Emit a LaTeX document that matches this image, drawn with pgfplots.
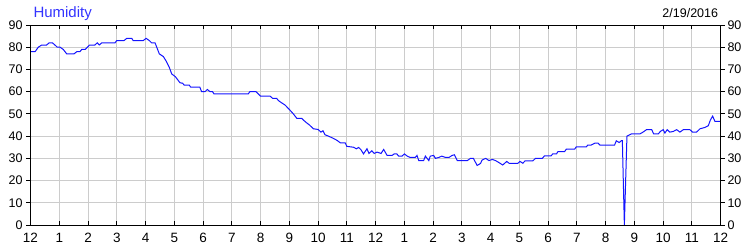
\documentclass[border=0pt]{standalone}
\usepackage{fontspec}
\setmainfont{Liberation Sans}
\usepackage{pgfplots}
\pgfplotsset{compat=1.18}
\definecolor{titleblue}{RGB}{51,51,255}
\definecolor{gridgray}{RGB}{204,204,204}
\definecolor{lineblue}{RGB}{20,20,255}
\begin{document}
\begin{tikzpicture}
\begin{axis}[
  name=main,
  at={(0,0)}, anchor=south west,
  scale only axis, width=690.2pt, height=200pt,
  xmin=0, xmax=24, ymin=0, ymax=90,
  xtick={0,1,...,24},
  xticklabels={12,1,2,3,4,5,6,7,8,9,10,11,12,1,2,3,4,5,6,7,8,9,10,11,12},
  ytick={0,10,...,90},
  grid=major,
  major grid style={gridgray, line width=1pt},
  axis line style={black, line width=1pt},
  tick align=inside,
  major tick length=4pt,
  xtick pos=both, ytick pos=left,
  xtick style={black, line width=1pt},
  ytick style={black, line width=1pt, xshift=-4pt},
  /pgf/number format/assume math mode=true,
  xticklabel style={font=\fontsize{13.5}{14}\selectfont, inner sep=0pt, yshift=-8.3pt},
  yticklabel style={font=\fontsize{12.5}{13}\selectfont, inner sep=0pt, xshift=-7.8pt},
]
\addplot[lineblue, line width=1pt] coordinates {
(0,78) (0.16,78) (0.27,80) (0.39,81) (0.56,81) (0.65,82) (0.76,82) (0.85,81) (0.93,80) (1.03,80) (1.14,79) (1.26,77) (1.51,77) (1.61,78) (1.72,78) (1.78,79) (1.9,79) (1.98,80) (2.05,81) (2.24,81) (2.32,82) (2.39,81) (2.48,82) (2.94,82) (3.0,83) (3.25,83) (3.35,84) (3.52,84) (3.57,83) (3.92,83) (4.02,84) (4.13,83) (4.21,82) (4.33,82) (4.39,80) (4.48,77) (4.62,75.8) (4.73,73.5) (4.83,70.8) (4.91,68) (5.04,66.7) (5.14,65) (5.2,64) (5.29,63.8) (5.34,63) (5.52,63) (5.57,62) (5.89,62) (5.95,60) (6.07,60) (6.15,61) (6.24,60) (6.33,60) (6.38,59) (7.57,59) (7.63,60) (7.84,60) (7.92,59) (8.0,58) (8.33,58) (8.42,57) (8.56,57) (8.62,56) (8.73,55) (8.85,54) (9.0,52) (9.14,50) (9.26,48) (9.43,48) (9.51,47) (9.6,46) (9.7,45) (9.84,43.3) (10.0,43) (10.1,41.8) (10.17,42.4) (10.24,40.6) (10.36,40) (10.53,39) (10.67,38) (10.77,37) (10.94,37) (11.0,35.4) (11.23,35) (11.33,34.3) (11.41,34.9) (11.49,33.9) (11.58,32) (11.7,34.3) (11.77,32.2) (11.87,33.4) (11.95,32.2) (12.05,32.8) (12.19,32.2) (12.28,34) (12.4,31.3) (12.57,31.3) (12.65,32) (12.74,32) (12.8,31) (12.92,31) (13.0,32) (13.1,31) (13.2,30.4) (13.38,30.4) (13.44,31.3) (13.5,29) (13.67,29) (13.73,31) (13.85,29) (13.9,31) (14.02,31.3) (14.08,30) (14.2,30.4) (14.3,31) (14.43,30.4) (14.55,30.4) (14.66,31.3) (14.74,31.6) (14.84,29) (15.19,29) (15.3,30) (15.4,30) (15.53,26.8) (15.65,27.7) (15.7,29.2) (15.83,30) (15.94,29) (16.06,29.5) (16.17,29) (16.3,28) (16.42,27) (16.56,28.6) (16.65,27.7) (16.94,27.7) (17.02,28.6) (17.12,27.8) (17.2,28.9) (17.47,28.9) (17.56,30) (17.8,30) (17.87,31.1) (18.1,31.1) (18.16,32) (18.29,32) (18.34,33) (18.57,33) (18.63,34.1) (18.92,34.1) (18.98,35.2) (19.33,35.2) (19.38,36) (19.5,36) (19.62,36.8) (19.74,36.8) (19.8,36) (20.31,36) (20.37,37.9) (20.47,37.1) (20.55,38) (20.58,38) (20.65,0) (20.74,40) (20.9,41) (21.19,41) (21.3,41.8) (21.42,42.9) (21.6,42.9) (21.67,41) (21.83,41) (21.9,42.1) (22.0,42.9) (22.06,41.4) (22.14,42.9) (22.23,41.8) (22.35,42.1) (22.47,42.9) (22.58,41.8) (22.7,42.9) (22.93,42.9) (23.02,41.8) (23.16,41.8) (23.28,43.3) (23.45,43.9) (23.57,44.7) (23.64,47.2) (23.72,49) (23.8,46.6) (24,46.6)
};
\end{axis}
\begin{axis}[
  at={(0,0)}, anchor=south west,
  scale only axis, width=690.2pt, height=200pt,
  xmin=0, xmax=24, ymin=0, ymax=90,
  xtick=\empty,
  ytick={0,10,...,90},
  axis line style={black, line width=1pt},
  tick align=inside,
  major tick length=4pt,
  yticklabel pos=right,
  ytick pos=right,
  ytick style={black, line width=1pt, xshift=4pt},
  /pgf/number format/assume math mode=true,
  yticklabel style={font=\fontsize{12.5}{13}\selectfont, inner sep=0pt, xshift=6.6pt},
]
\end{axis}
\node[anchor=base west, inner sep=0pt, text=titleblue, font=\fontsize{15}{16}\selectfont] at ([xshift=2.8pt, yshift=7.7pt]main.north west) {Humidity};
\node[anchor=base east, inner sep=0pt, text=black, font=\fontsize{12.5}{13}\selectfont] at ([xshift=-2.4pt, yshift=7.7pt]main.north east) {2/19/2016};
\pgfresetboundingbox
\path (-30.5pt,-25pt) rectangle (719.5pt,225pt);
\end{tikzpicture}
\end{document}
